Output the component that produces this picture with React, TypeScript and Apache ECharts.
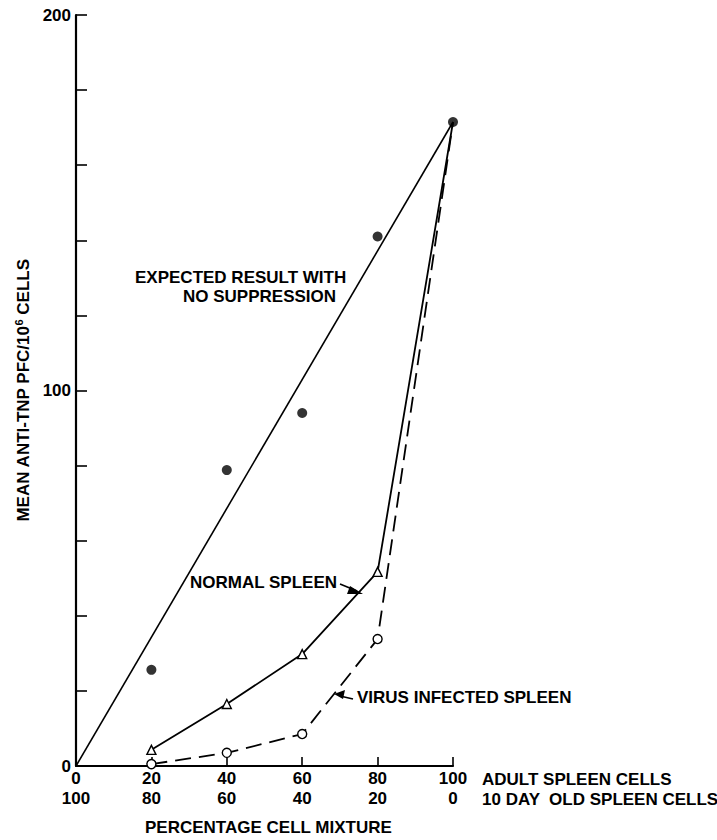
import React, { useEffect, useRef } from "react";
import * as echarts from "echarts";

// Percent adult spleen cells (x) and the complementary 10-day-old row labels
const xTickAdult = ["0", "20", "40", "60", "80", "100"];
const xTickYoung = ["100", "80", "60", "40", "20", "0"];

// Expected result with no suppression (straight reference line endpoints)
const expectedLineX = [0, 100];
const expectedLineY = [0, 171.5];

// Observed filled points
const expectedPtsX = [20, 40, 60, 80, 100];
const expectedPtsY = [25.6, 78.8, 94, 141, 171.5];

// Normal spleen (triangles)
const normalX = [20, 40, 60, 80, 100];
const normalY = [4.3, 16.5, 29.8, 51.7, 171.5];

// Virus infected spleen (open circles, dashed)
const virusX = [20, 40, 60, 80, 100];
const virusY = [0.5, 3.5, 8.5, 33.8, 171.5];

const FONT = "Liberation Sans";
const FS = 17;

export default function App() {
  const ref = useRef<HTMLDivElement>(null);
  useEffect(() => {
    document.body.style.margin = "0";
    const chart = echarts.init(ref.current!, null, { renderer: "svg" });
    const black = "#000";
    const font = `bold ${FS}px "${FONT}"`;
    const pair = (xs: number[], ys: number[]) => xs.map((x, i) => [x, ys[i]]);
    const hideLast = (xs: number[], ys: number[]) =>
      xs.map((x, i) =>
        i === xs.length - 1 ? { value: [x, ys[i]], symbol: "none" } : { value: [x, ys[i]] }
      );
    chart.setOption({
      animation: false,
      backgroundColor: "#fff",
      textStyle: { fontFamily: FONT, color: black },
      grid: { left: 76, right: 264, top: 15, bottom: 74, containLabel: false },
      xAxis: {
        type: "value",
        min: 0,
        max: 100,
        interval: 20,
        splitLine: { show: false },
        axisLine: { lineStyle: { color: black, width: 2.2 } },
        axisTick: { inside: true, length: 9, lineStyle: { color: black, width: 1.6 } },
        axisLabel: {
          margin: 2,
          color: black,
          fontFamily: FONT,
          fontSize: FS,
          fontWeight: "bold",
          lineHeight: 20,
          formatter: (v: number) => {
            const i = Math.round(v / 20);
            return `${xTickAdult[i]}\n${xTickYoung[i]}`;
          },
        },
      },
      yAxis: {
        type: "value",
        min: 0,
        max: 200,
        interval: 20,
        splitLine: { show: false },
        axisLine: { lineStyle: { color: black, width: 2.2 } },
        axisTick: { inside: true, length: 11, lineStyle: { color: black, width: 1.6 } },
        axisLabel: {
          margin: 5,
          color: black,
          fontFamily: FONT,
          fontSize: FS,
          fontWeight: "bold",
          formatter: (v: number) => (v % 100 === 0 ? String(v) : ""),
        },
        name: "MEAN ANTI-TNP PFC/10{sup|6} CELLS",
        nameLocation: "middle",
        nameGap: 41,
        nameRotate: 90,
        nameTextStyle: {
          color: black,
          fontFamily: FONT,
          fontSize: FS,
          fontWeight: "bold",
          rich: {
            sup: { fontSize: 11, fontWeight: "bold", fontFamily: FONT, verticalAlign: "top", padding: [0, 0, 9, 0] },
          },
        },
      },
      series: [
        {
          type: "line",
          data: pair(expectedLineX, expectedLineY),
          showSymbol: false,
          lineStyle: { color: black, width: 1.6 },
          z: 2,
        },
        {
          type: "scatter",
          data: pair(expectedPtsX, expectedPtsY),
          symbol: "circle",
          symbolSize: 10,
          itemStyle: { color: black },
          z: 5,
        },
        {
          type: "line",
          data: hideLast(normalX, normalY),
          symbol: "triangle",
          symbolSize: 9,
          itemStyle: { color: "#fff", borderColor: black, borderWidth: 1.4 },
          lineStyle: { color: black, width: 1.8 },
          z: 3,
        },
        {
          type: "line",
          data: hideLast(virusX, virusY),
          symbol: "circle",
          symbolSize: 9,
          itemStyle: { color: "#fff", borderColor: black, borderWidth: 1.4 },
          lineStyle: { color: black, width: 1.8, type: [16, 8] },
          z: 3,
        },
      ],
      graphic: [
        {
          type: "text",
          left: 135,
          top: 269,
          style: { text: "EXPECTED RESULT WITH", font, fill: black },
        },
        {
          type: "text",
          left: 183,
          top: 288,
          style: { text: "NO SUPPRESSION", font, fill: black },
        },
        {
          type: "text",
          left: 190,
          top: 574,
          style: { text: "NORMAL SPLEEN", font, fill: black },
        },
        {
          type: "line",
          shape: { x1: 340, y1: 584, x2: 357, y2: 591 },
          style: { stroke: black, lineWidth: 1.6 },
        },
        {
          type: "polygon",
          shape: { points: [[363, 594], [350, 586], [347, 594]] },
          style: { fill: black },
        },
        {
          type: "text",
          left: 357,
          top: 689,
          style: { text: "VIRUS INFECTED SPLEEN", font, fill: black },
        },
        {
          type: "line",
          shape: { x1: 353, y1: 699, x2: 340, y2: 696 },
          style: { stroke: black, lineWidth: 1.6 },
        },
        {
          type: "polygon",
          shape: { points: [[334, 694], [345, 690], [343, 699]] },
          style: { fill: black },
        },
        {
          type: "text",
          left: 482,
          top: 769,
          style: {
            text: "ADULT SPLEEN CELLS\n10 DAY  OLD SPLEEN CELLS",
            font,
            fill: black,
            lineHeight: 20,
          },
        },
        {
          type: "text",
          left: 145,
          top: 819,
          style: { text: "PERCENTAGE CELL MIXTURE", font, fill: black },
        },
      ],
    });
    return () => chart.dispose();
  }, []);
  return <div ref={ref} style={{ width: 717, height: 840 }} />;
}
